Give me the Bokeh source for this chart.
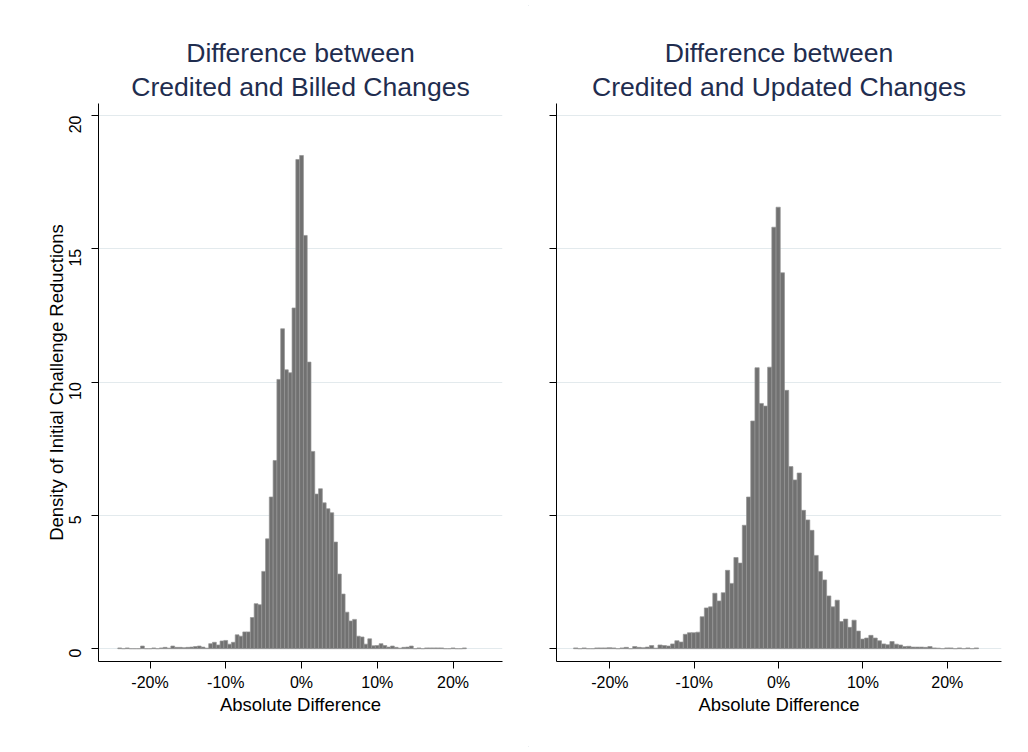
import math

from bokeh.plotting import figure
from bokeh.models import ColumnDataSource, FixedTicker, Range1d, Title
from bokeh.layouts import row
from bokeh.embed import file_html
from bokeh.resources import INLINE

FONT = "Liberation Sans"
TITLE_COLOR = "#1f2d4f"
GRID_COLOR = "#e3eaed"
BAR_FILL = "#717171"
BAR_LINE = "#959595"

# Histogram bins (percentage points) and densities
bin_width = 0.5

billed_start = -24.25
billed_density = [
    0.03, 0.0, 0.03, 0.0, 0.0, 0.0, 0.10, 0.0, 0.0, 0.03,
    0.0, 0.03, 0.05, 0.02, 0.10, 0.05, 0.05, 0.04, 0.05, 0.06,
    0.08, 0.10, 0.06, 0.02, 0.19, 0.24, 0.14, 0.29, 0.31, 0.17,
    0.24, 0.52, 0.47, 0.63, 0.63, 1.17, 1.69, 1.65, 2.90, 4.12,
    5.69, 7.06, 10.10, 12.00, 10.46, 10.35, 12.78, 18.35, 18.50, 15.50,
    10.75, 7.40, 5.80, 6.00, 5.47, 5.25, 5.10, 4.00, 2.80, 2.05,
    1.37, 1.04, 1.10, 0.47, 0.44, 0.17, 0.37, 0.11, 0.12, 0.19,
    0.12, 0.06, 0.10, 0.05, 0.02, 0.05, 0.06, 0.10, 0.0, 0.03,
    0.0, 0.03, 0.03, 0.03, 0.03, 0.03, 0.0, 0.0, 0.03, 0.0,
    0.0, 0.03,
]

updated_start = -24.3
updated_density = [
    0.03, 0.0, 0.03, 0.0, 0.0, 0.03, 0.03, 0.03, 0.04, 0.03,
    0.0, 0.03, 0.05, 0.0, 0.08, 0.05, 0.04, 0.06, 0.12, 0.02,
    0.14, 0.12, 0.10, 0.18, 0.30, 0.25, 0.54, 0.60, 0.60, 0.62,
    1.20, 1.53, 1.57, 2.08, 1.79, 2.10, 2.94, 2.45, 3.42, 3.21,
    4.63, 5.69, 8.54, 10.54, 9.20, 9.10, 10.56, 15.81, 16.56, 14.10,
    9.69, 6.83, 6.33, 6.59, 5.19, 4.83, 4.44, 3.50, 2.90, 2.58,
    1.98, 1.57, 1.82, 1.02, 1.11, 0.80, 1.07, 0.66, 0.36, 0.40,
    0.50, 0.40, 0.30, 0.18, 0.15, 0.27, 0.17, 0.14, 0.08, 0.09,
    0.06, 0.06, 0.06, 0.05, 0.08, 0.03, 0.02, 0.0, 0.03, 0.03,
    0.0, 0.03, 0.0, 0.03, 0.0, 0.03,
]

x_ticks = [-20, -10, 0, 10, 20]
x_tick_labels = ["-20%", "-10%", "0%", "10%", "20%"]
y_ticks = [0, 5, 10, 15, 20]
y_tick_labels = ["0", "5", "10", "15", "20"]

x_title = "Absolute Difference"
y_title = "Density of Initial Challenge Reductions"


def histogram_panel(start, density, title_lines, x_lo, x_hi, show_y_labels,
                    width, border_left, border_right):
    lefts = [start + i * bin_width for i in range(len(density))]
    rights = [v + bin_width for v in lefts]
    src = ColumnDataSource(dict(left=lefts, right=rights, top=density,
                                bottom=[0.0] * len(density)))

    p = figure(width=width, height=752, output_backend="svg",
               toolbar_location=None,
               x_range=Range1d(x_lo, x_hi), y_range=Range1d(-0.48, 20.45),
               min_border_left=border_left, min_border_right=border_right,
               min_border_top=103, min_border_bottom=91)
    p.background_fill_color = "white"
    p.border_fill_color = "white"
    p.outline_line_color = None

    p.quad(left="left", right="right", top="top", bottom="bottom", source=src,
           fill_color=BAR_FILL, line_color=BAR_LINE, line_width=0.7)

    # two-line title: the lower line is added first so it sits next to the frame
    line1, line2 = title_lines
    p.add_layout(Title(text=line2, align="center", text_font=FONT,
                       text_font_size="26.6px", text_font_style="normal",
                       text_color=TITLE_COLOR, standoff=4, offset=0), "above")
    p.add_layout(Title(text=line1, align="center", text_font=FONT,
                       text_font_size="26.6px", text_font_style="normal",
                       text_color=TITLE_COLOR, standoff=0, offset=0), "above")

    p.xgrid.visible = False
    p.ygrid.ticker = FixedTicker(ticks=y_ticks)
    p.ygrid.grid_line_color = GRID_COLOR
    p.ygrid.grid_line_width = 1

    xa = p.xaxis[0]
    xa.ticker = FixedTicker(ticks=x_ticks)
    xa.major_label_overrides = dict(zip(x_ticks, x_tick_labels))
    xa.axis_label = x_title
    xa.axis_label_standoff = 0
    xa.major_label_standoff = 5

    ya = p.yaxis[0]
    ya.ticker = FixedTicker(ticks=y_ticks)
    if show_y_labels:
        ya.major_label_overrides = dict(zip(y_ticks, y_tick_labels))
        ya.major_label_orientation = math.pi / 2
        ya.axis_label = y_title
        ya.axis_label_standoff = -6
        ya.major_label_standoff = 16
    else:
        ya.major_label_overrides = {t: "" for t in y_ticks}

    for ax in (xa, ya):
        ax.axis_line_color = "black"
        ax.axis_line_width = 1
        ax.major_tick_line_color = "black"
        ax.major_tick_out = 7
        ax.major_tick_in = 0
        ax.minor_tick_line_color = None
        ax.major_label_text_font = FONT
        ax.major_label_text_font_size = "16px"
        ax.major_label_text_color = "black"
        ax.axis_label_text_font = FONT
        ax.axis_label_text_font_size = "18.5px"
        ax.axis_label_text_font_style = "normal"
        ax.axis_label_text_color = "black"
    return p


left = histogram_panel(billed_start, billed_density,
                       ["Difference between", "Credited and Billed Changes"],
                       -26.8, 26.53, True, 528, 98, 26)
right = histogram_panel(updated_start, updated_density,
                        ["Difference between", "Credited and Updated Changes"],
                        -26.33, 26.43, False, 500, 28, 27)

page = row(left, right, styles={"outline": "1px solid #e3e9ec",
                                "outline-offset": "-6px"})

open("out.html", "w").write(file_html(page, INLINE))
